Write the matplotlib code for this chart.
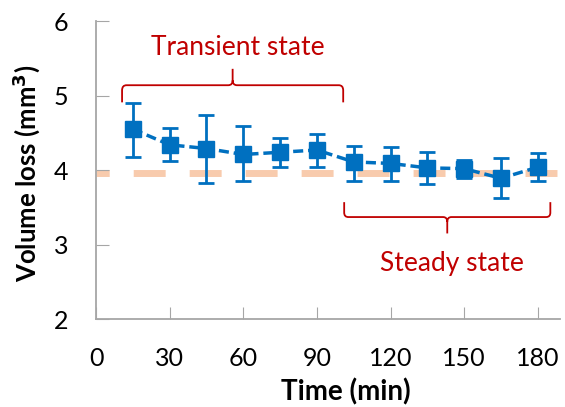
import matplotlib.pyplot as plt
from matplotlib.path import Path
from matplotlib.patches import PathPatch

plt.rcParams['font.family'] = ['Lato', 'DejaVu Sans']

time = [15, 30, 45, 60, 75, 90, 105, 120, 135, 150, 165, 180]
volume_loss = [4.55, 4.34, 4.29, 4.21, 4.24, 4.27, 4.11, 4.09, 4.03, 4.02, 3.89, 4.04]
err_upper = [4.90, 4.57, 4.74, 4.59, 4.43, 4.48, 4.33, 4.31, 4.24, 4.14, 4.16, 4.23]
err_lower = [4.18, 4.12, 3.83, 3.85, 4.04, 4.04, 3.86, 3.85, 3.81, 3.90, 3.63, 3.85]
reference_level = 3.96

blue = '#0070C0'
red = '#C00000'
grey = '#A6A6A6'


def brace(ax, x0, x1, y_end, y_mid, y_tip):
    xm = (x0 + x1) / 2
    d = (x1 - x0) * 0.02
    dy = (y_mid - y_end) * 0.3
    verts = [(x0, y_end), (x0, y_mid - dy), (x0, y_mid), (x0 + d, y_mid),
             (xm - d, y_mid), (xm, y_mid), (xm, y_mid + (y_tip - y_mid) * 0.3),
             (xm, y_tip),
             (xm, y_mid + (y_tip - y_mid) * 0.3), (xm, y_mid), (xm + d, y_mid),
             (x1 - d, y_mid), (x1, y_mid), (x1, y_mid - dy), (x1, y_end)]
    codes = [Path.MOVETO, Path.LINETO, Path.CURVE3, Path.CURVE3,
             Path.LINETO, Path.CURVE3, Path.CURVE3,
             Path.LINETO,
             Path.MOVETO, Path.CURVE3, Path.CURVE3,
             Path.LINETO, Path.CURVE3, Path.CURVE3, Path.LINETO]
    ax.add_patch(PathPatch(Path(verts, codes), fill=False, ec=red, lw=1.3,
                           clip_on=False))


fig = plt.figure(figsize=(5.65, 4.07), dpi=100)
ax = fig.add_axes([0.170, 0.216, 0.821, 0.732])

ax.axhline(reference_level, color='#F8CBAD', lw=5, ls=(2.7, (4.6, 3.46)), zorder=1)

yerr = [[v - lo for v, lo in zip(volume_loss, err_lower)],
        [hi - v for v, hi in zip(volume_loss, err_upper)]]
ax.errorbar(time, volume_loss, yerr=yerr, color=blue, ls=(0, (2.9, 1.4)), lw=2.5,
            marker='s', ms=11, elinewidth=2, capsize=6, capthick=2, zorder=2)

brace(ax, 10.6, 100.7, 4.91, 5.14, 5.36)
brace(ax, 101.1, 185.1, 3.57, 3.37, 3.15)
ax.text(57.9, 5.65, 'Transient state', color=red, fontsize=19, ha='center', va='center')
ax.text(145.1, 2.75, 'Steady state', color=red, fontsize=19, ha='center', va='center')

ax.set_xlim(0, 189)
ax.set_ylim(2, 6)
ax.set_xticks(range(0, 181, 30))
ax.set_yticks([2, 3, 4, 5, 6])
ax.tick_params(direction='in', length=9, color=grey, labelsize=18, pad=20)
ax.tick_params(axis='y', pad=20)
for s in ['top', 'right']:
    ax.spines[s].set_visible(False)
for s in ['left', 'bottom']:
    ax.spines[s].set_color(grey)
    ax.spines[s].set_linewidth(1.3)

ax.set_xlabel('Time (min)', fontsize=20, fontweight='bold')
ax.set_ylabel('Volume loss (mm$^\\mathbf{3}$)', fontsize=18.5, fontweight='bold')
ax.xaxis.set_label_coords(0.539, -0.2)
ax.yaxis.set_label_coords(-0.117, 0.49)

fig.savefig('out.png', dpi=100)
